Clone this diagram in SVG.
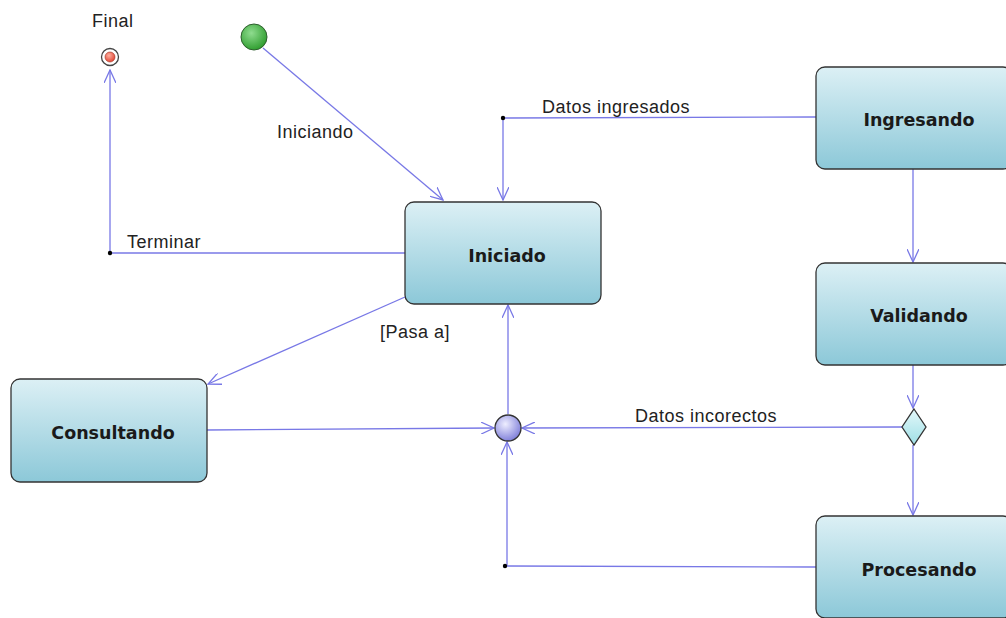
<svg xmlns="http://www.w3.org/2000/svg" width="1006" height="618" viewBox="0 0 1006 618">
<defs>
<linearGradient id="stateGrad" x1="0" y1="0" x2="0" y2="1">
<stop offset="0" stop-color="#dcf0f5"/>
<stop offset="1" stop-color="#8cc8d8"/>
</linearGradient>
<radialGradient id="greenGrad" cx="0.4" cy="0.35" r="0.7">
<stop offset="0" stop-color="#8fdc8f"/>
<stop offset="1" stop-color="#2a9a2a"/>
</radialGradient>
<radialGradient id="junctionGrad" cx="0.4" cy="0.35" r="0.7">
<stop offset="0" stop-color="#eeeeff"/>
<stop offset="1" stop-color="#7a7ad8"/>
</radialGradient>
<radialGradient id="redGrad" cx="0.4" cy="0.35" r="0.7">
<stop offset="0" stop-color="#ffb0a0"/>
<stop offset="1" stop-color="#e04030"/>
</radialGradient>
<linearGradient id="diamondGrad" x1="0" y1="0" x2="0" y2="1">
<stop offset="0" stop-color="#e4f8fa"/>
<stop offset="1" stop-color="#9edfe6"/>
</linearGradient>
<marker id="arrow" viewBox="0 0 14 12" refX="13" refY="6" markerWidth="14" markerHeight="12" markerUnits="userSpaceOnUse" orient="auto">
<path d="M0,0 L13,6 L0,12" fill="none" stroke="#7878e6" stroke-width="1.3"/>
</marker>
</defs>
<style>
.state rect{fill:url(#stateGrad);stroke:#333;stroke-width:1.3}
.state text{font-family:"DejaVu Sans",Verdana,sans-serif;font-weight:bold;font-size:17.5px;fill:#1a1a1a;text-anchor:middle}
.conn{fill:none;stroke:#7878e6;stroke-width:1.3}
.arr{marker-end:url(#arrow)}
.lbl{font-family:"Liberation Sans",Arial,sans-serif;font-size:18px;letter-spacing:0.5px;fill:#222}
.dot{fill:#000}
</style>
<rect width="1006" height="618" fill="#fff"/>
<g id="connectors">
<path class="conn arr" d="M263,48 L443,200"/>
<path class="conn" d="M405,253 L110,253"/>
<path class="conn arr" d="M110,253 L110,70"/>
<path class="conn" d="M816,117 L503,118"/>
<path class="conn arr" d="M503,118 L503,200"/>
<path class="conn arr" d="M913,169 L913,262"/>
<path class="conn arr" d="M913,365 L913,408"/>
<path class="conn arr" d="M913,445 L913,515"/>
<path class="conn arr" d="M902,427 L522,428"/>
<path class="conn arr" d="M405,297 L208,384"/>
<path class="conn arr" d="M207,430 L494,428"/>
<path class="conn arr" d="M508,414 L508,305"/>
<path class="conn" d="M816,567 L506,566"/>
<path class="conn arr" d="M507,566 L507,442"/>
<circle class="dot" cx="110" cy="253" r="2.2"/>
<circle class="dot" cx="503" cy="118" r="2.2"/>
<circle class="dot" cx="505" cy="566" r="2.2"/>
<text class="lbl" x="277" y="138">Iniciando</text>
<text class="lbl" x="127" y="248">Terminar</text>
<text class="lbl" x="542" y="113">Datos ingresados</text>
<text class="lbl" x="635" y="422">Datos incorectos</text>
<text class="lbl" x="380" y="338">[Pasa a]</text>
</g>
<g id="initial">
<circle cx="254" cy="37" r="13" fill="url(#greenGrad)" stroke="#2e5e2e" stroke-width="1"/>
</g>
<g id="final">
<text class="lbl" x="92" y="27">Final</text>
<circle cx="110" cy="57" r="8.5" fill="#fff" stroke="#444" stroke-width="1.3"/>
<circle cx="110" cy="57" r="5" fill="url(#redGrad)" stroke="#a03020" stroke-width="0.6"/>
</g>
<g id="iniciado" class="state">
<rect x="405" y="202" width="196" height="102" rx="9"/>
<text x="507" y="262">Iniciado</text>
</g>
<g id="ingresando" class="state">
<rect x="816" y="67" width="196" height="102" rx="9"/>
<text x="919" y="126">Ingresando</text>
</g>
<g id="validando" class="state">
<rect x="816" y="263" width="196" height="102" rx="9"/>
<text x="919" y="322">Validando</text>
</g>
<g id="procesando" class="state">
<rect x="816" y="516" width="196" height="102" rx="9"/>
<text x="919" y="576">Procesando</text>
</g>
<g id="consultando" class="state">
<rect x="11" y="379" width="196" height="103" rx="9"/>
<text x="113" y="439">Consultando</text>
</g>
<g id="junction">
<circle cx="508" cy="428" r="13" fill="url(#junctionGrad)" stroke="#333" stroke-width="1.3"/>
</g>
<g id="decision">
<path d="M914,409 L926,427 L914,445 L902,427 Z" fill="url(#diamondGrad)" stroke="#333" stroke-width="1.3"/>
</g>
</svg>
